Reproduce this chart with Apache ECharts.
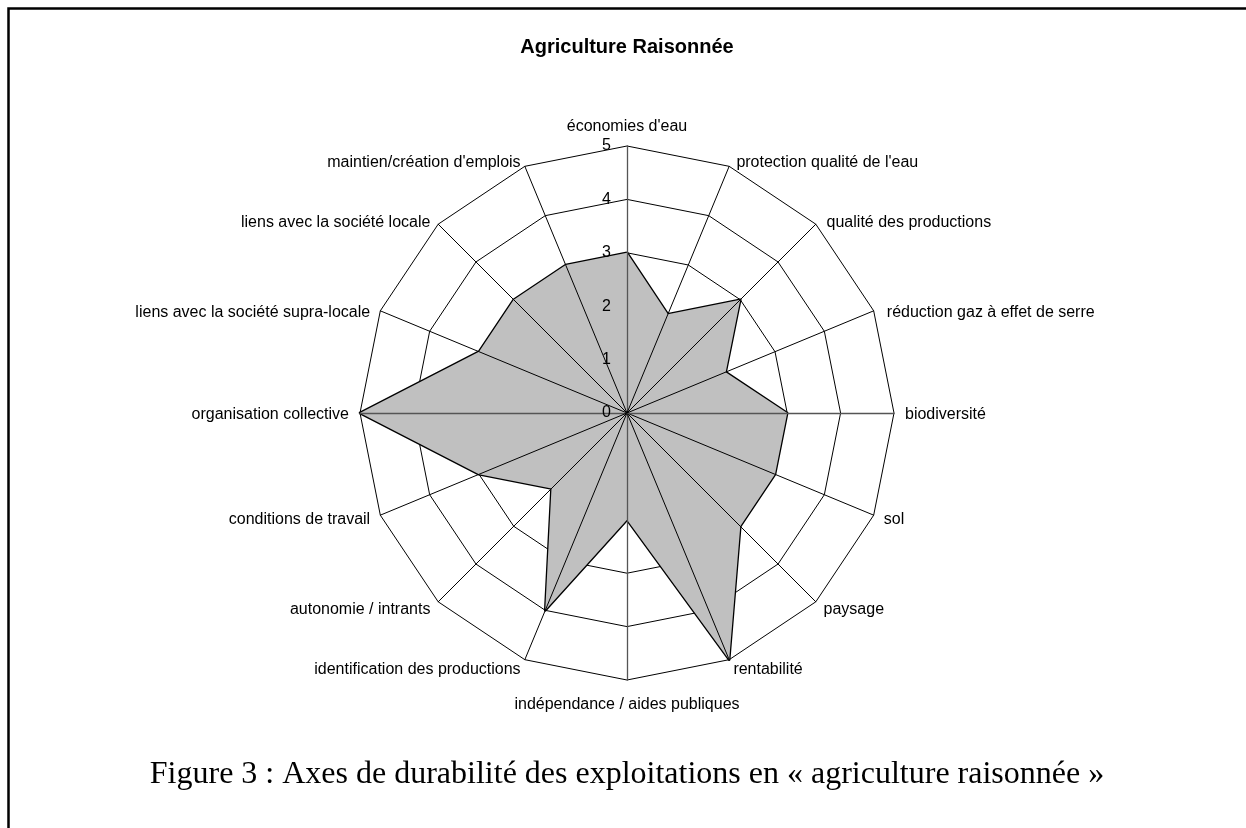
<!DOCTYPE html>
<html>
<head>
<meta charset="utf-8">
<script src="https://cdn.jsdelivr.net/npm/echarts@6/dist/echarts.min.js"></script>
<style>
html,body{margin:0;padding:0;background:#fff;}
#chart{width:1246px;height:828px;}
</style>
</head>
<body>
<div id="chart"></div>
<script>
// ---- data (clockwise from top) ----
const chartTitle = "Agriculture Raisonnée";
const captionText = "Figure 3 : Axes de durabilité des exploitations en « agriculture raisonnée »";
const categories = [
  "économies d'eau",
  "protection qualité de l'eau",
  "qualité des productions",
  "réduction gaz à effet de serre",
  "biodiversité",
  "sol",
  "paysage",
  "rentabilité",
  "indépendance / aides publiques",
  "identification des productions",
  "autonomie / intrants",
  "conditions de travail",
  "organisation collective",
  "liens avec la société supra-locale",
  "liens avec la société locale",
  "maintien/création d'emplois"
];
const values = [3, 2, 3, 2, 3, 3, 3, 5, 2, 4, 2, 3, 5, 3, 3, 3];
const axisMin = 0;
const axisMax = 5;
const tickCount = 5;

// ECharts radar goes counter-clockwise: reorder so it reads clockwise
const order = [0];
for (let i = categories.length - 1; i >= 1; i--) order.push(i);
const cats = order.map(i => categories[i]);
const vals = order.map(i => values[i]);

const center = [627, 413];
const radius = 267;
const sansFont = "Liberation Sans, Arial, sans-serif";
const n = categories.length;

// label style class by angular position (clockwise index)
function nameClass(idx) {
  if (idx === 0) return 'top';
  if (idx === n / 2) return 'bot';
  if (idx === n / 4 || idx === 3 * n / 4) return 'mid';
  if (idx < n / 4 || idx > 3 * n / 4) return 'up';
  return 'low';
}
const classOf = {};
categories.forEach((c, i) => { classOf[c] = nameClass(i); });

const indicatorsBase = cats.map((name) => ({ name: name, min: axisMin, max: axisMax }));
const indicatorsTop = cats.map((name, k) => {
  const o = { name: '', min: axisMin, max: axisMax };
  if (k === 0) {
    o.axisLabel = { show: true, color: '#000', fontSize: 16, fontFamily: sansFont, margin: 16, showMinLabel: true, showMaxLabel: true };
  }
  if (k % 4 === 0) {
    o.axisLine = { lineStyle: { color: '#555', width: 1.3 } };
  }
  return o;
});

const txt = { color: '#000', fontSize: 16, fontFamily: sansFont };
const chart = echarts.init(document.getElementById('chart'), null, { renderer: 'canvas' });
chart.setOption({
  animation: false,
  backgroundColor: '#fff',
  graphic: [
    { type: 'rect', z: 100, silent: true,
      shape: { x: 8.5, y: 8.5, width: 3000, height: 3000 },
      style: { fill: 'none', stroke: '#000', lineWidth: 2.5 } },
    { type: 'text', z: 100, silent: true, x: 627, y: 47,
      style: { text: chartTitle, align: 'center', verticalAlign: 'middle',
        font: 'bold 20px ' + sansFont, fill: '#000' } },
    { type: 'text', z: 100, silent: true, x: 627, y: 775,
      style: { text: captionText, align: 'center', verticalAlign: 'middle',
        font: '32px "Liberation Serif", "Times New Roman", serif', fill: '#000' } }
  ],
  radar: [
    {
      z: 0,
      center: center,
      radius: radius,
      startAngle: 90,
      shape: 'polygon',
      splitNumber: tickCount,
      indicator: indicatorsBase,
      nameGap: 11,
      axisName: {
        color: '#000', fontSize: 16, fontFamily: sansFont,
        formatter: function (name) { return '{' + classOf[name] + '|' + name + '}'; },
        rich: {
          top: Object.assign({}, txt),
          bot: Object.assign({ padding: [6, 0, 0, 0] }, txt),
          mid: Object.assign({ padding: [4, 0, 0, 0] }, txt),
          up: Object.assign({ padding: [12, 0, 0, 3] }, txt),
          low: Object.assign({}, txt)
        }
      },
      axisLine: { show: false },
      axisTick: { show: false },
      axisLabel: { show: false },
      splitLine: { show: true, lineStyle: { color: '#000', width: 1 } },
      splitArea: { show: false }
    },
    {
      z: 5,
      center: center,
      radius: radius,
      startAngle: 90,
      shape: 'polygon',
      splitNumber: tickCount,
      indicator: indicatorsTop,
      axisName: { show: false },
      axisLine: { show: true, lineStyle: { color: '#000', width: 1 } },
      axisTick: { show: false },
      axisLabel: { show: false },
      splitLine: { show: false },
      splitArea: { show: false }
    }
  ],
  series: [{
    type: 'radar',
    radarIndex: 0,
    z: 2,
    symbol: 'none',
    lineStyle: { color: '#000', width: 2.6 },
    areaStyle: { color: '#c0c0c0', opacity: 1 },
    data: [{
      value: vals,
      name: chartTitle,
      lineStyle: { color: '#000', width: 2.6 },
      areaStyle: { color: '#c0c0c0', opacity: 1 }
    }]
  }]
});
</script>
</body>
</html>
